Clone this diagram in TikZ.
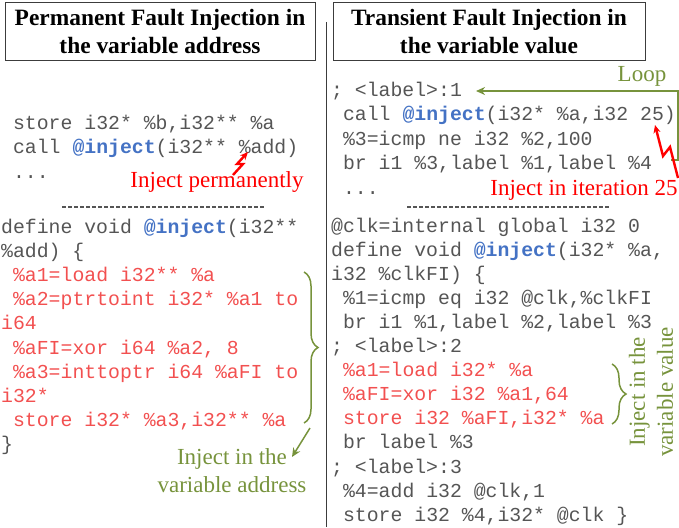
\documentclass[tikz,border=0pt]{standalone}
\usepackage{fontspec}
\setmainfont{Liberation Serif}
\newfontfamily\codefont{Liberation Mono}
\usetikzlibrary{arrows.meta,decorations.pathreplacing}
\definecolor{codegray}{RGB}{85,85,85}
\definecolor{codered}{RGB}{242,80,80}
\definecolor{injblue}{RGB}{68,114,196}
\definecolor{olivegreen}{RGB}{119,147,60}
\definecolor{framegray}{RGB}{60,60,60}
\newcommand{\injname}{{\color{injblue}\bfseries @inject}}
\begin{document}
\begin{tikzpicture}[x=1pt,y=-1pt,
 codeline/.style={anchor=base west,inner sep=0pt,text=codegray,font=\codefont\fontsize{19.8}{24}\selectfont},
 redcode/.style={codeline,text=codered},
 titlebox/.style={draw=framegray,line width=1pt,minimum height=57pt,align=center,inner sep=0pt,font=\bfseries\fontsize{23.4}{28}\selectfont},
 redlabel/.style={text=red,inner sep=0pt,font=\fontsize{23}{28}\selectfont},
 greenlabel/.style={text=olivegreen,inner sep=0pt,align=center,font=\fontsize{23}{28}\selectfont},
 dashsep/.style={draw=codegray,line width=1.1pt,dash pattern=on 4pt off 2pt},
 bolt/.style={draw=red,line width=2.4pt,line join=miter,-{Stealth[length=8pt,width=7pt]}},
 greenarrow/.style={draw=olivegreen,line width=1.5pt,-{Stealth[length=9pt,width=8pt]}},
 gbrace/.style={draw=olivegreen,line width=1.5pt,decorate,decoration={brace,amplitude=14pt}},
 divider/.style={draw=framegray,line width=1pt}
]
\useasboundingbox (0,0) rectangle (679,527);

% titles
\node[titlebox,minimum width=310pt] (tl) at (160,31.5) {Permanent Fault Injection in\\the variable address};
\node[titlebox,minimum width=312pt] (tr) at (489,31.5) {Transient Fault Injection in\\the variable value};

% divider
\coordinate (dvt) at (326,22);
\coordinate (dvb) at (326,527);
\draw[divider] (dvt) -- (dvb);

% left code
\node[codeline] (l1) at (12.9,129) {store i32* \%b,i32** \%a};
\node[codeline] (l2) at (12.9,153.5) {call \injname(i32** \%add)};
\node[codeline] (l3) at (12.9,178) {...};
\coordinate (lds) at (62,207);
\coordinate (lde) at (265,207);
\draw[dashsep] (lds) -- (lde);
\node[codeline] (l4) at (1,233) {define void \injname(i32**};
\node[codeline] (l5) at (1,257.2) {\%add) \{};
\node[redcode] (l6) at (12.9,281.4) {\%a1=load i32** \%a};
\node[redcode] (l7) at (12.9,305.6) {\%a2=ptrtoint i32* \%a1 to};
\node[redcode] (l8) at (1,329.8) {i64};
\node[redcode] (l9) at (12.9,354) {\%aFI=xor i64 \%a2, 8};
\node[redcode] (l10) at (12.9,378.2) {\%a3=inttoptr i64 \%aFI to};
\node[redcode] (l11) at (1,402.4) {i32*};
\node[redcode] (l12) at (12.9,426.6) {store i32* \%a3,i32** \%a};
\node[codeline] (l13) at (1,450.8) {\}};

% right code
\node[codeline] (r1) at (331,96) {; <label>:1};
\node[codeline] (r2) at (342.9,120.5) {call \injname(i32* \%a,i32 25)};
\node[codeline] (r3) at (342.9,145) {\%3=icmp ne i32 \%2,100};
\node[codeline] (r4) at (342.9,169.5) {br i1 \%3,label \%1,label \%4};
\node[codeline] (r5) at (342.9,194) {...};
\coordinate (rds) at (407,207);
\coordinate (rde) at (610,207);
\draw[dashsep] (rds) -- (rde);
\node[codeline] (r6) at (331,232) {@clk=internal global i32 0};
\node[codeline] (r7) at (331,256.1) {define void \injname(i32* \%a,};
\node[codeline] (r8) at (331,280.2) {i32 \%clkFI) \{};
\node[codeline] (r9) at (342.9,304.3) {\%1=icmp eq i32 @clk,\%clkFI};
\node[codeline] (r10) at (342.9,328.4) {br i1 \%1,label \%2,label \%3};
\node[codeline] (r11) at (331,352.5) {; <label>:2};
\node[redcode] (r12) at (342.9,376.6) {\%a1=load i32* \%a};
\node[redcode] (r13) at (342.9,400.7) {\%aFI=xor i32 \%a1,64};
\node[redcode] (r14) at (342.9,424.8) {store i32 \%aFI,i32* \%a};
\node[codeline] (r15) at (342.9,448.9) {br label \%3};
\node[codeline] (r16) at (331,473) {; <label>:3};
\node[codeline] (r17) at (342.9,497.1) {\%4=add i32 @clk,1};
\node[codeline] (r18) at (342.9,521.2) {store i32 \%4,i32* @clk \}};

% left annotations
\node[redlabel] (injperm) at (217,182) {Inject permanently};
\coordinate (lb1) at (233,175);
\coordinate (lb2) at (243,164);
\coordinate (lb3) at (237,164);
\coordinate (lb4) at (248,152);
\draw[bolt] (lb1) -- (lb2) -- (lb3) -- (lb4);

\coordinate (lbrt) at (304,272);
\coordinate (lbrb) at (304,423);
\draw[gbrace] (lbrt) -- (lbrb);
\coordinate (lga) at (310,428);
\coordinate (lgb) at (292,457);
\draw[greenarrow] (lga) -- (lgb);
\node[greenlabel] (injaddr) at (232,471) {Inject in the\\variable address};

% right annotations
\node[greenlabel] (looplbl) at (642,76) {Loop};
\coordinate (lp1) at (671,160);
\coordinate (lp2) at (678,160);
\coordinate (lp3) at (678,91);
\coordinate (lp4) at (476,91);
\draw[greenarrow] (lp1) -- (lp2) -- (lp3) -- (lp4);

\node[redlabel] (injiter) at (584,190) {Inject in iteration 25};
\coordinate (rb1) at (678,178);
\coordinate (rb2) at (670,147);
\coordinate (rb3) at (663,156);
\coordinate (rb4) at (655,125);
\draw[bolt] (rb1) -- (rb2) -- (rb3) -- (rb4);

\coordinate (rbrt) at (612,364);
\coordinate (rbrb) at (612,424);
\draw[gbrace] (rbrt) -- (rbrb);
\node[greenlabel,rotate=90] (injval) at (651,392) {Inject in the\\variable value};
\end{tikzpicture}
\end{document}
